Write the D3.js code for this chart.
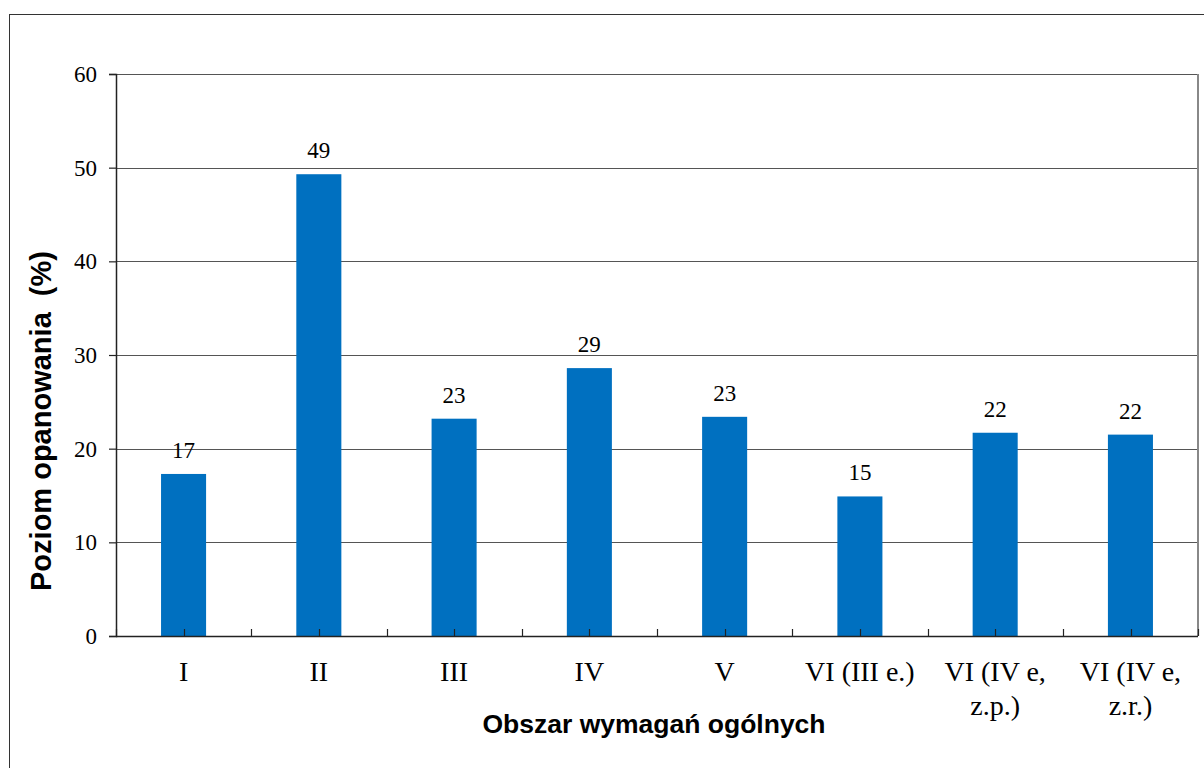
<!DOCTYPE html>
<html>
<head>
<meta charset="utf-8">
<script src="https://cdn.jsdelivr.net/npm/d3@7"></script>
<style>
  html, body { margin: 0; padding: 0; background: #fff; }
  svg { display: block; }
</style>
</head>
<body>
<script>
// chart values
var categories = ['I', 'II', 'III', 'IV', 'V', 'VI (III e.)', 'VI (IV e, z.p.)', 'VI (IV e, z.r.)'];
var categoryLines = [['I'], ['II'], ['III'], ['IV'], ['V'], ['VI (III e.)'], ['VI (IV e,', 'z.p.)'], ['VI (IV e,', 'z.r.)']];
var values = [17.3, 49.3, 23.2, 28.6, 23.4, 14.9, 21.7, 21.5];
var valueLabels = ['17', '49', '23', '29', '23', '15', '22', '22'];
var yTicks = [0, 10, 20, 30, 40, 50, 60];
var xTitle = 'Obszar wymagań ogólnych';
var yTitle = 'Poziom opanowania  (%)';

var width = 1204;
var height = 768;
var margin = { left: 116, top: 74, right: 6, bottom: 132 };
var plotW = width - margin.left - margin.right;
var plotH = height - margin.top - margin.bottom;

var serif = '"Liberation Serif", "Times New Roman", serif';
var sans = '"Liberation Sans", Arial, sans-serif';

var svg = d3.select('body').append('svg')
    .attr('width', width)
    .attr('height', height);

// outer chart frame
svg.append('rect')
    .attr('x', 9.5)
    .attr('y', 14.5)
    .attr('width', 1210)
    .attr('height', 780)
    .attr('fill', 'none')
    .attr('stroke', '#333')
    .attr('stroke-width', 1);

var g = svg.append('g')
    .attr('transform', 'translate(' + margin.left + ',' + margin.top + ')');

var x = d3.scaleBand()
    .domain(categories)
    .range([0, plotW])
    .paddingInner(0.667)
    .paddingOuter(0.333);

var y = d3.scaleLinear()
    .domain([0, 60])
    .range([plotH, 0]);

// horizontal gridlines
g.append('g')
    .selectAll('line')
    .data(yTicks.filter(function(d) { return d > 0; }))
    .join('line')
    .attr('x1', 0)
    .attr('x2', plotW)
    .attr('y1', function(d) { return Math.round(y(d)) + 0.5; })
    .attr('y2', function(d) { return Math.round(y(d)) + 0.5; })
    .attr('stroke', '#555')
    .attr('stroke-width', 1.2);

// right plot border
g.append('line')
    .attr('x1', plotW)
    .attr('x2', plotW)
    .attr('y1', 0)
    .attr('y2', plotH)
    .attr('stroke', '#888')
    .attr('stroke-width', 2);

// bars
g.append('g')
    .selectAll('rect')
    .data(values)
    .join('rect')
    .attr('x', function(d, i) { return x(categories[i]); })
    .attr('y', function(d) { return y(d); })
    .attr('width', x.bandwidth())
    .attr('height', function(d) { return plotH - y(d); })
    .attr('fill', '#0070C0');

// value labels
g.append('g')
    .selectAll('text')
    .data(values)
    .join('text')
    .attr('x', function(d, i) { return x(categories[i]) + x.bandwidth() / 2; })
    .attr('y', function(d) { return y(d) - 16; })
    .attr('text-anchor', 'middle')
    .attr('font-family', serif)
    .attr('font-size', 23)
    .attr('fill', '#000')
    .text(function(d, i) { return valueLabels[i]; });

// y axis
var yAxis = g.append('g')
    .call(d3.axisLeft(y).tickValues(yTicks).tickSize(7).tickPadding(12));
yAxis.attr('font-family', serif);
yAxis.select('.domain').attr('stroke', '#222').attr('stroke-width', 1.5);
yAxis.selectAll('.tick line').attr('stroke', '#222').attr('stroke-width', 1.2);
yAxis.selectAll('.tick text')
    .attr('font-family', serif)
    .attr('font-size', 23)
    .attr('fill', '#000');

// x axis baseline with ticks at category centres and boundaries
var step = x.step();
var xTickPos = d3.range(0, categories.length * 2 + 1).map(function(k) { return k * step / 2; });
g.append('line')
    .attr('x1', 0)
    .attr('x2', plotW)
    .attr('y1', plotH + 0.5)
    .attr('y2', plotH + 0.5)
    .attr('stroke', '#222')
    .attr('stroke-width', 1.5);
g.append('g')
    .selectAll('line')
    .data(xTickPos)
    .join('line')
    .attr('x1', function(d) { return Math.round(d) + 0.5; })
    .attr('x2', function(d) { return Math.round(d) + 0.5; })
    .attr('y1', plotH)
    .attr('y2', plotH - 7)
    .attr('stroke', '#222')
    .attr('stroke-width', 1.2);

// category labels
var catText = g.append('g')
    .selectAll('text')
    .data(categories)
    .join('text')
    .attr('text-anchor', 'middle')
    .attr('font-family', serif)
    .attr('font-size', 28)
    .attr('fill', '#000')
    .attr('transform', function(d) {
        return 'translate(' + (x(d) + x.bandwidth() / 2) + ',' + (plotH + 45) + ')';
    });
catText.selectAll('tspan')
    .data(function(d, i) { return categoryLines[i]; })
    .join('tspan')
    .attr('x', 0)
    .attr('dy', function(d, i) { return i === 0 ? 0 : 34; })
    .text(function(d) { return d; });

// axis titles
svg.append('text')
    .attr('x', 654)
    .attr('y', 733)
    .attr('text-anchor', 'middle')
    .attr('font-family', sans)
    .attr('font-weight', 'bold')
    .attr('font-size', 26.5)
    .attr('fill', '#000')
    .text(xTitle);

svg.append('text')
    .attr('transform', 'translate(51,421) rotate(-90)')
    .attr('text-anchor', 'middle')
    .attr('font-family', sans)
    .attr('font-weight', 'bold')
    .attr('font-size', 29)
    .attr('fill', '#000')
    .attr('xml:space', 'preserve')
    .style('white-space', 'pre')
    .text(yTitle);
</script>
</body>
</html>
